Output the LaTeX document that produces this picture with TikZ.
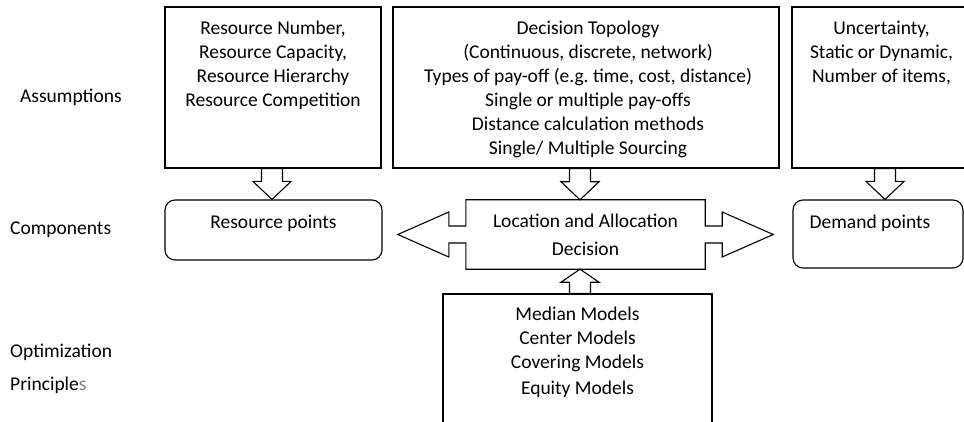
\documentclass[tikz,border=0pt]{standalone}
\usepackage{fontspec}
\setmainfont{Carlito}
\usetikzlibrary{positioning}
\definecolor{faded}{RGB}{125,125,125}
\frenchspacing
\tikzstyle{box}  = [draw, line width=1.1pt, inner sep=0pt]
\tikzstyle{rbox} = [box, rounded corners=10pt]
\tikzstyle{txt}  = [align=center, inner sep=0pt, anchor=north, execute at begin node=\strut]
\tikzstyle{side} = [inner sep=0pt, anchor=base west]
% block arrow between two nodes, #1 = head length (sign gives direction)
\tikzset{fat/.style={line width=1.1pt, to path={
  ([xshift=-10.5pt]\tikztostart) -- ([xshift=-10.5pt,yshift=#1]\tikztotarget)
  -- ([xshift=-19pt,yshift=#1]\tikztotarget) -- (\tikztotarget)
  -- ([xshift=19pt,yshift=#1]\tikztotarget) -- ([xshift=10.5pt,yshift=#1]\tikztotarget)
  -- ([xshift=10.5pt]\tikztostart) -- cycle}}}

\begin{document}
\begin{tikzpicture}[x=1pt, y=-1pt, font=\fontsize{19.5}{24}\selectfont]
  \clip (0,0) rectangle (964,422);

  %row labels
  \node[side] (assum) at (20,103) {Assumptions};
  \node[side] (compo) at (10,235) {Components};
  \node[side] (optim) at (10,357) {Optimization};
  \node[side] (princ) at (10,390) {Principle\textcolor{faded}{s}};

  %assumption boxes
  \node[box, minimum width=216, minimum height=161] (resbox) at (273,87.5) {};
  \node[box, minimum width=386, minimum height=161] (decbox) at (586,87.5) {};
  \node[box, minimum width=186, minimum height=161] (uncbox) at (885,87.5) {};
  \node[txt] (restxt) at ([yshift=-14.7pt]resbox.north)
    {Resource Number,\\Resource Capacity,\\Resource Hierarchy\\Resource Competition};
  \node[txt] (dectxt) at ([xshift=2pt,yshift=-14.7pt]decbox.north)
    {Decision Topology\\(Continuous, discrete, network)\\Types of pay-off (e.g.\ time, cost, distance)\\Single or multiple pay-offs\\Distance calculation methods\\Single/ Multiple Sourcing};
  \node[txt] (unctxt) at ([xshift=-3.5pt,yshift=-14.7pt]uncbox.north)
    {Uncertainty,\\Static or Dynamic,\\Number of items,};

  %components
  \node[rbox, minimum width=217, minimum height=60] (respts) at (273.5,230) {};
  \node[txt, anchor=base] (respttxt) at ([yshift=-29pt]respts.north) {Resource points};
  \node[rbox, minimum width=170, minimum height=68] (demand) at (878,234) {};
  \node[side] (demtxt) at ([xshift=17pt,yshift=-29pt]demand.north west) {Demand points};
  \node[align=center, inner sep=0pt, minimum width=239, minimum height=69] (loc) at (585.5,234.5)
    {Location and Allocation\\[4pt]Decision};
  \draw[line width=1.1pt] (loc.north west) -- (loc.north east)
    -- ([yshift=8.5pt]loc.east) -- ([xshift=17pt,yshift=8.5pt]loc.east)
    -- ([xshift=17pt,yshift=22.5pt]loc.east) -- ([xshift=68pt]loc.east)
    -- ([xshift=17pt,yshift=-22.5pt]loc.east) -- ([xshift=17pt,yshift=-8.5pt]loc.east)
    -- ([yshift=-8.5pt]loc.east) -- (loc.south east) -- (loc.south west)
    -- ([yshift=-8.5pt]loc.west) -- ([xshift=-17pt,yshift=-8.5pt]loc.west)
    -- ([xshift=-17pt,yshift=-22.5pt]loc.west) -- ([xshift=-68pt]loc.west)
    -- ([xshift=-17pt,yshift=22.5pt]loc.west) -- ([xshift=-17pt,yshift=8.5pt]loc.west)
    -- ([yshift=8.5pt]loc.west) -- cycle;

  %optimization principles
  \node[box, minimum width=269, minimum height=160] (optbox) at (577.5,374) {};
  \node[txt] (opttxt) at ([yshift=-13.7pt]optbox.north)
    {Median Models\\Center Models\\Covering Models\\[2pt]Equity Models};

  %block arrows
  \draw[fat=18pt] ([xshift=-1pt]resbox.south) to ([xshift=-1.5pt]respts.north);
  \draw[fat=18pt] ([xshift=-6pt]decbox.south) to ([xshift=-5.5pt]loc.north);
  \draw[fat=18pt] (uncbox.south) to ([xshift=7pt]demand.north);
  \draw[fat=-13pt] ([xshift=2.5pt]optbox.north) to ([xshift=-5.5pt]loc.south);
\end{tikzpicture}
\end{document}
